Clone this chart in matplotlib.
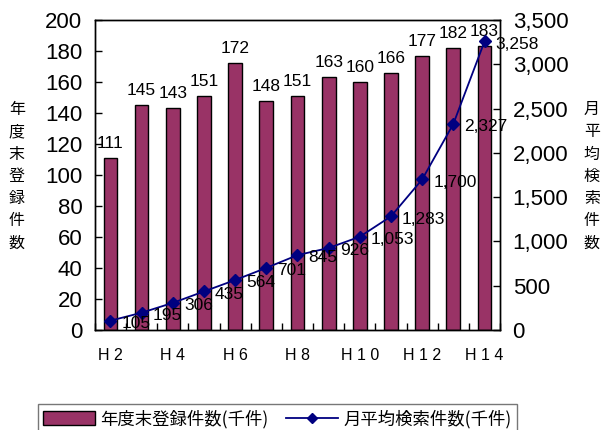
import matplotlib
matplotlib.use("Agg")
import matplotlib.pyplot as plt
from matplotlib.ticker import FuncFormatter, FixedLocator
import numpy as np

plt.rcParams['font.family'] = ['Liberation Sans', 'Noto Sans CJK JP', 'DejaVu Sans']

# 年度別データ (H2〜H14)
years = ["H 2", "H 3", "H 4", "H 5", "H 6", "H 7", "H 8",
         "H 9", "H 1 0", "H 1 1", "H 1 2", "H 1 3", "H 1 4"]
registered = [111, 145, 143, 151, 172, 148, 151, 163, 160, 166, 177, 182, 183]
searches = [105, 195, 306, 435, 564, 701, 845, 926, 1053, 1283, 1700, 2327, 3258]

bar_color = "#993366"
line_color = "#000080"
cjk = ['Noto Sans CJK JP', 'DejaVu Sans']

fig = plt.figure(figsize=(6.04, 4.30), dpi=100)
ax = fig.add_axes([0.157, 0.2326, 0.671, 0.7209])
ax2 = ax.twinx()

x = np.arange(len(years))
bars = ax.bar(x, registered, width=0.44, color=bar_color, edgecolor="black",
              linewidth=1.0, label="年度末登録件数(千件)", zorder=2)
line, = ax2.plot(x, searches, color=line_color, linewidth=1.3, marker="D",
                 markersize=6, label="月平均検索件数(千件)", zorder=3)

ax.set_xlim(-0.5, len(years) - 0.5)
ax.set_ylim(0, 200)
ax2.set_ylim(0, 3500)
ax.set_yticks(range(0, 201, 20))
ax2.set_yticks(range(0, 3501, 500))
ax2.yaxis.set_major_formatter(FuncFormatter(lambda v, p: f"{int(v):,}"))

# 目盛り
ax.set_xticks(x[::2])
ax.set_xticklabels(years[::2], fontsize=11.5)
ax.xaxis.set_minor_locator(FixedLocator(np.arange(-0.5, len(years), 1)))
ax.tick_params(axis="x", which="major", length=0, pad=13)
ax.tick_params(axis="x", which="minor", direction="in", length=5, width=1)
ax.tick_params(axis="y", direction="in", length=5, width=1, labelsize=16, pad=9)
ax2.tick_params(axis="y", direction="in", length=5, width=1, labelsize=16, pad=9)

for a in (ax, ax2):
    for s in a.spines.values():
        s.set_linewidth(1.0)

# 数値ラベル
for xi, v in zip(x, registered):
    ax.annotate(str(v), (xi, v), xytext=(0, 5), textcoords="offset points",
                ha="center", va="bottom", fontsize=12.5)
for xi, v in zip(x, searches):
    ax2.annotate(f"{v:,}", (xi, v), xytext=(8, -2), textcoords="offset points",
                 ha="left", va="center", fontsize=12.5)

# 縦書きの軸ラベル
fig.text(0.028, 0.59, "\n".join("年度末登録件数"), family=cjk, fontsize=11.5,
         ha="center", va="center", linespacing=1.4)
fig.text(0.980, 0.59, "\n".join("月平均検索件数"), family=cjk, fontsize=11.5,
         ha="center", va="center", linespacing=1.4)

leg = fig.legend([bars, line], ["年度末登録件数(千件)", "月平均検索件数(千件)"],
                 loc="upper center", bbox_to_anchor=(0.459, 0.060), ncol=2,
                 prop={'family': cjk, 'size': 12.5}, frameon=True, fancybox=False,
                 edgecolor="#555555", handlelength=3.0, handleheight=0.8,
                 handletextpad=0.3, columnspacing=1.0, borderpad=0.3,
                 borderaxespad=0, markerscale=0.8)
leg.get_frame().set_linewidth(1.0)

fig.savefig("out.png", dpi=100)
